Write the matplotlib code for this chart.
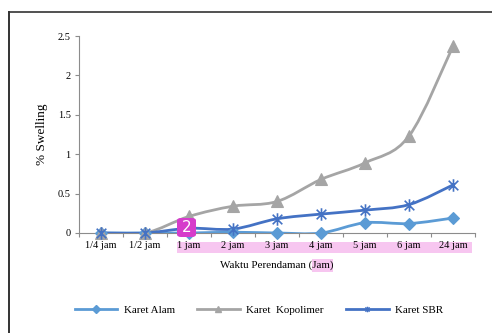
import matplotlib
matplotlib.use("Agg")
import matplotlib.pyplot as plt
import numpy as np
from matplotlib.path import Path
from matplotlib.patches import PathPatch, FancyBboxPatch, Rectangle
from matplotlib.lines import Line2D

plt.rcParams['font.family'] = ['Liberation Serif', 'DejaVu Serif']

categories = ["1/4 jam", "1/2 jam", "1 jam", "2 jam", "3 jam", "4 jam", "5 jam", "6 jam", "24 jam"]
karet_alam = [0.0, 0.0, 0.0, 0.01, 0.0, 0.0, 0.13, 0.12, 0.19]
karet_kopolimer = [0.0, 0.0, 0.21, 0.34, 0.40, 0.68, 0.89, 1.23, 2.37]
karet_sbr = [0.0, 0.0, 0.06, 0.05, 0.18, 0.24, 0.29, 0.36, 0.61]
y_ticks = [0, 0.5, 1, 1.5, 2, 2.5]
y_tick_labels = ["0", "0.5", "1", "1.5", "2", "2.5"]

c_alam = "#5B9BD5"
c_kop = "#A5A5A5"
c_sbr = "#4472C4"

# asterisk marker: an "x" with a vertical stroke through it
star_verts = [(-1, -1), (1, 1), (-1, 1), (1, -1), (0, -1.3), (0, 1.3)]
star_codes = [Path.MOVETO, Path.LINETO, Path.MOVETO, Path.LINETO, Path.MOVETO, Path.LINETO]
star_marker = Path(star_verts, star_codes)


def smooth_path(xs, ys):
    pts = np.column_stack([xs, ys]).astype(float)
    n = len(pts)
    verts = [tuple(pts[0])]
    codes = [Path.MOVETO]
    for i in range(n - 1):
        p0 = pts[i - 1] if i > 0 else pts[i]
        p1 = pts[i]
        p2 = pts[i + 1]
        p3 = pts[i + 2] if i + 2 < n else pts[i + 1]
        c1 = p1 + (p2 - p0) / 6.0
        c2 = p2 - (p3 - p1) / 6.0
        verts += [tuple(c1), tuple(c2), tuple(p2)]
        codes += [Path.CURVE4] * 3
    return Path(verts, codes)


fig = plt.figure(figsize=(4.92, 3.33), dpi=100)

# outer frame lines
fig.add_artist(Line2D([9 / 492, 9 / 492], [0, 1 - 12 / 333], transform=fig.transFigure,
                      color="#333333", lw=1.4))
fig.add_artist(Line2D([9 / 492, 1.0], [1 - 12 / 333, 1 - 12 / 333], transform=fig.transFigure,
                      color="#333333", lw=1.2))

ax = fig.add_axes([79 / 492, 1 - 233 / 333, (475 - 79) / 492, (233 - 36) / 333])
x = np.arange(len(categories))

series = [
    (karet_alam, c_alam, "D", 6, "Karet Alam"),
    (karet_kopolimer, c_kop, "^", 8, "Karet  Kopolimer"),
    (karet_sbr, c_sbr, star_marker, 9, "Karet SBR"),
]

handles = []
for vals, col, mk, ms, lab in series:
    ax.add_patch(PathPatch(smooth_path(x, vals), facecolor="none", edgecolor=col,
                           lw=2.0, capstyle="round", joinstyle="round", zorder=3))
    ax.plot(x, vals, linestyle="none", marker=mk, markersize=ms, color=col,
            markeredgecolor=col, markeredgewidth=1.2 if mk is star_marker else 0.8,
            zorder=4, clip_on=False)
    handles.append(Line2D([], [], color=col, lw=2.0, marker=mk, markersize=4,
                          markeredgecolor=col, markeredgewidth=1.0, label=lab))

ax.set_xlim(-0.5, len(categories) - 0.5)
ax.set_ylim(0, 2.5)
ax.set_yticks(y_ticks)
ax.set_yticklabels(y_tick_labels)
ax.set_xticks(x)
ax.set_xticklabels(categories)
ax.set_xticks(np.arange(len(categories) + 1) - 0.5, minor=True)

for s in ["top", "right"]:
    ax.spines[s].set_visible(False)
for s in ["left", "bottom"]:
    ax.spines[s].set_color("#8C8C8C")
    ax.spines[s].set_linewidth(0.8)
ax.tick_params(axis="y", length=3, width=0.8, color="#8C8C8C", labelsize=7.5, pad=3)
ax.tick_params(axis="x", which="major", length=0, labelsize=7.5, pad=6)
ax.tick_params(axis="x", which="minor", length=3, width=0.8, color="#8C8C8C")

ax.set_ylabel("% Swelling", fontsize=9.5, labelpad=7)
ax.set_xlabel("Waktu Perendaman (Jam)", fontsize=7.9, labelpad=7)

# highlight marks
fig.add_artist(Rectangle((177 / 492, 1 - 253 / 333), (472 - 177) / 492, 11 / 333,
                         transform=fig.transFigure, facecolor="#F7C6F0",
                         edgecolor="none", zorder=0))
fig.add_artist(Rectangle((312 / 492, 1 - 272 / 333), 21 / 492, 13 / 333,
                         transform=fig.transFigure, facecolor="#F7C6F0",
                         edgecolor="none", zorder=0))
fig.add_artist(FancyBboxPatch((177 / 492, 1 - 237 / 333), 19 / 492, 19 / 333,
                              boxstyle="round,pad=0,rounding_size=0.008",
                              transform=fig.transFigure, facecolor="#D63CCB",
                              edgecolor="none", zorder=10))
fig.text(186.5 / 492, 1 - 227.5 / 333, "2", color="white", fontsize=11,
         family=["DejaVu Sans"], ha="center", va="center", zorder=11)

fig.legend(handles=handles, loc="center", bbox_to_anchor=(259 / 492, 1 - 310 / 333),
           ncol=3, frameon=False, fontsize=7.9, handlelength=3.9,
           columnspacing=2.0, handletextpad=0.6)

fig.savefig("out.png", dpi=100)
